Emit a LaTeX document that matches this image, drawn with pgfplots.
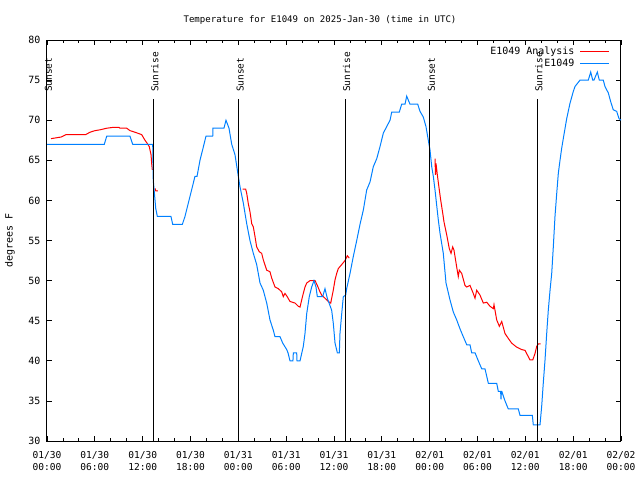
\documentclass[border=0pt]{standalone}
\usepackage{pgfplots}
\pgfplotsset{compat=1.18}
\usepackage{fontspec}
\setmainfont{DejaVu Sans Mono}
\setmonofont{DejaVu Sans Mono}
\definecolor{analred}{RGB}{255,0,0}
\definecolor{obsblue}{RGB}{0,128,255}
\begin{document}
\begin{tikzpicture}[font=\fontsize{9.5}{12}\selectfont]
\path[use as bounding box] (-47bp,-39bp) rectangle (593bp,441bp);
\begin{axis}[
 scale only axis, width=574bp, height=401bp,
 xmin=0, xmax=72, ymin=30, ymax=80,
 xtick={0,6,...,72},
 xticklabels={01/30\\00:00,01/30\\06:00,01/30\\12:00,01/30\\18:00,01/31\\00:00,01/31\\06:00,01/31\\12:00,01/31\\18:00,02/01\\00:00,02/01\\06:00,02/01\\12:00,02/01\\18:00,02/02\\00:00},
 minor x tick num=2,
 ytick={30,35,...,80},
 tick align=inside,
 major tick length=5bp, minor tick length=3bp,
 xticklabel style={align=center, font=\fontsize{9.6}{12}\selectfont, yshift=-7bp},
 yticklabel style={font=\fontsize{10}{12}\selectfont, xshift=-3bp},
 /pgf/number format/assume math mode=true,
 axis line style={line width=1bp},
 every tick/.style={black, line width=0.8bp},
 clip=false,
 unbounded coords=jump,
 legend style={at={(rel axis cs:1,1)}, anchor=north east, xshift=-8bp, yshift=-3bp, draw=none, fill=none, font=\fontsize{10}{12}\selectfont, nodes={inner sep=1.5bp}, row sep=0pt, column sep=4bp},
 legend plot pos=right,
 legend cell align=right,
 legend image code/.code={\draw[#1] (0bp,0bp) -- (29bp,0bp);},
]
\addplot[analred, line width=1bp] coordinates {
(0.50,67.7) (1.76,67.9) (2.38,68.2) (4.85,68.2) (5.39,68.5) (6.02,68.7) (6.65,68.8) (7.49,69) (8.24,69.1) (9.03,69.1) (9.16,69) (10.0,69) (10.41,68.7) (11.04,68.5) (11.88,68.2) (12.29,67.5) (12.58,67.1) (12.83,66.7) (13.05,65.7) (13.13,64.6) (13.21,63.8)
(13.40,nan)
(13.55,61.5) (13.64,61.2) (13.92,61.2)
(18.0,nan)
(24.55,61.4) (24.92,61.4) (25.05,60.9) (25.25,59.6) (25.46,58.6) (25.68,57.1) (25.88,56.7) (26.09,55.5) (26.30,54.2) (26.63,53.6) (26.93,53.4) (27.13,52.6) (27.56,51.3) (27.97,51.1) (28.19,50.3) (28.60,49.2) (29.01,49) (29.44,48.6) (29.64,48) (29.85,48.4) (30.07,48.1) (30.48,47.4) (31.11,47.2) (31.52,46.8) (31.74,46.7) (31.95,47.6) (32.15,48.4) (32.36,49.2) (32.58,49.7) (32.99,50) (33.62,50) (33.91,49.4) (34.24,48.6) (34.45,48.2) (34.87,47.8) (35.29,47.4) (35.59,47.2) (35.91,48.8) (36.13,50.1) (36.34,50.9) (36.54,51.5) (36.97,52) (37.38,52.5) (37.67,53.1) (37.92,52.8)
(42.0,nan)
(48.67,65.2) (48.73,63.2) (48.80,64.6) (48.96,63.2) (49.21,61.3) (49.39,60) (49.64,58.4) (49.80,57.3) (50.14,55.7) (50.46,54) (50.68,53.4) (50.89,54.2) (51.05,53.8) (51.39,51.7) (51.59,50.5) (51.72,51.3) (52.02,50.9) (52.43,49.4) (52.65,49.2) (53.06,49.4) (53.47,48.4) (53.69,47.8) (53.90,48.8) (54.31,48.2) (54.73,47.2) (55.16,47.3) (55.57,46.8) (55.98,46.5) (56.07,47) (56.41,45.1) (56.74,44.3) (57.04,44.9) (57.45,43.4) (57.86,42.8) (58.29,42.2) (58.92,41.7) (59.55,41.4) (59.96,41.3) (60.17,40.9) (60.59,40.1) (60.93,40.1) (61.21,40.9) (61.43,41.8) (61.63,42.1) (61.93,42.1)
};
\addlegendentry{E1049 Analysis}
\addplot[obsblue, line width=1bp] coordinates {
(0,67) (7.19,67) (7.49,68) (10.41,68) (10.75,67) (13.26,67) (13.33,62.5) (13.64,59) (13.84,58) (15.55,58) (15.77,57) (16.97,57) (17.31,58) (17.81,60) (18.19,61.5) (18.56,63) (18.82,63) (19.19,65) (19.57,66.5) (19.94,68) (20.79,68) (20.82,69) (22.20,69) (22.45,70) (22.83,69) (23.17,67) (23.58,65.7) (24.0,63) (24.21,61.7) (24.62,59.7) (25.05,57.1) (25.46,55) (25.88,53.4) (26.30,52) (26.72,49.7) (27.13,48.8) (27.56,47.2) (27.97,45.1) (28.39,43.8) (28.60,43) (29.23,43) (29.57,42.2) (30.07,41.4) (30.23,41) (30.48,40) (30.85,40) (30.90,41) (31.32,41) (31.36,40) (31.74,40) (32.15,41.8) (32.36,43.4) (32.58,45.9) (32.90,48) (33.20,49.2) (33.49,50) (33.74,49.2) (33.91,48) (34.58,48) (34.87,49) (35.16,47.8) (35.71,46.3) (35.91,44.7) (36.13,42.2) (36.42,41) (36.67,41) (36.75,43.4) (36.97,45.9) (37.17,48) (37.47,48.2) (37.59,49) (38.01,50.9) (38.42,53) (38.85,55) (39.26,57) (39.68,58.8) (40.10,61.3) (40.52,62.3) (40.93,64.2) (41.36,65.2) (41.77,66.7) (42.19,68.4) (42.61,69.2) (43.03,70) (43.24,71) (44.19,71) (44.49,72) (44.91,72) (45.12,73) (45.53,72) (46.50,72) (46.79,71.1) (47.20,70.4) (47.54,69.2) (47.83,67.5) (48.04,66.3) (48.26,64.2) (48.46,63) (48.67,61.3) (49.08,57.6) (49.30,55.9) (49.71,53.4) (50.05,49.7) (50.55,47.6) (50.96,46.1) (51.39,45.1) (51.80,44) (52.22,43) (52.65,42) (53.06,42) (53.27,41) (53.69,41) (54.10,40) (54.53,39) (54.94,39) (55.36,37.2) (56.41,37.2) (56.61,36.2) (56.90,36.2) (56.95,35.2) (57.0,36.2) (57.04,36.2) (57.45,35) (57.86,34) (59.12,34) (59.33,33.2) (60.88,33.2) (61.00,32) (61.84,32) (62.05,34.3) (62.25,37.2) (62.47,40.1) (62.68,43.4) (62.88,46.3) (63.10,48.8) (63.31,50.9) (63.51,54.2) (63.72,58) (63.94,60.9) (64.14,63.4) (64.35,65) (64.56,66.5) (64.76,67.7) (65.19,70.2) (65.60,72.1) (66.02,73.6) (66.23,74.2) (66.86,75) (67.90,75) (68.20,76) (68.45,75) (68.61,75) (69.03,76) (69.28,75) (69.78,75) (69.99,74.2) (70.41,73.4) (70.71,72.3) (71.03,71.3) (71.46,71.1) (71.75,70.2) (72.0,70)
};
\addlegendentry{E1049}
\addplot[black, line width=1bp, forget plot] coordinates {(0.0,30) (0.0,72.6)};
\addplot[black, line width=1bp, forget plot] coordinates {(13.33,30) (13.33,72.6)};
\addplot[black, line width=1bp, forget plot] coordinates {(24.03,30) (24.03,72.6)};
\addplot[black, line width=1bp, forget plot] coordinates {(37.40,30) (37.40,72.6)};
\addplot[black, line width=1bp, forget plot] coordinates {(48.04,30) (48.04,72.6)};
\addplot[black, line width=1bp, forget plot] coordinates {(61.50,30) (61.50,72.6)};
\node[xshift=1.5bp, rotate=90, anchor=west, inner sep=0pt] at (axis cs:0.0,73.5) {Sunset};
\node[xshift=1.5bp, rotate=90, anchor=west, inner sep=0pt] at (axis cs:13.33,73.5) {Sunrise};
\node[xshift=1.5bp, rotate=90, anchor=west, inner sep=0pt] at (axis cs:24.03,73.5) {Sunset};
\node[xshift=1.5bp, rotate=90, anchor=west, inner sep=0pt] at (axis cs:37.40,73.5) {Sunrise};
\node[xshift=1.5bp, rotate=90, anchor=west, inner sep=0pt] at (axis cs:48.04,73.5) {Sunset};
\node[xshift=1.5bp, rotate=90, anchor=west, inner sep=0pt] at (axis cs:61.50,73.5) {Sunrise};
\end{axis}
\node[font=\fontsize{9.1}{12}\selectfont] at (273bp,421bp) {Temperature for E1049 on 2025-Jan-30 (time in UTC)};
\node[rotate=90, font=\fontsize{10}{12}\selectfont] at (-37bp,200.5bp) {degrees F};
\end{tikzpicture}
\end{document}
